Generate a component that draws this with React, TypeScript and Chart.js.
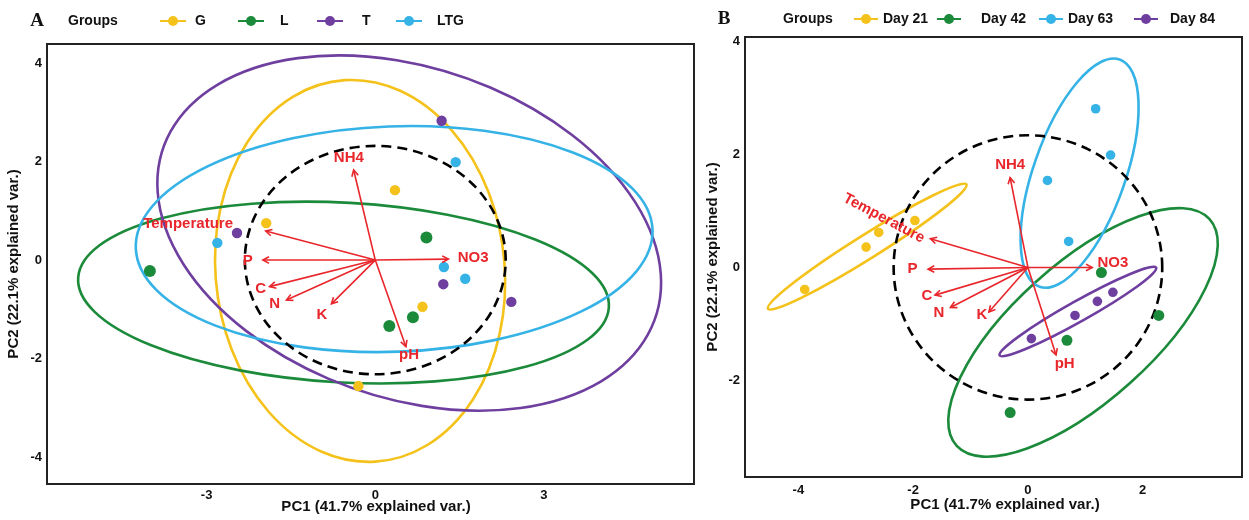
import React, { useEffect, useRef } from "react";
import { Chart, registerables } from "chart.js";

Chart.register(...registerables);

const YELLOW = "#F5C21B";
const GREEN = "#1B8A3A";
const PURPLE = "#6F3FA0";
const BLUE = "#35B2E6";
const RED = "#E8262B";
const INK = "#111111";

// ---------- Panel A ----------
const A_GROUPS = ["G", "L", "T", "LTG"];
const A_COLORS = [YELLOW, GREEN, PURPLE, BLUE];
const A_G_X = [-1.94, 0.35, 0.84, -0.3];
const A_G_Y = [0.75, 1.42, -0.95, -2.56];
const A_L_X = [-4.01, 0.91, 0.67, 0.25];
const A_L_Y = [-0.22, 0.46, -1.16, -1.34];
const A_T_X = [-2.46, 1.18, 1.21, 2.42];
const A_T_Y = [0.55, 2.83, -0.49, -0.85];
const A_LTG_X = [-2.81, 1.43, 1.22, 1.6];
const A_LTG_Y = [0.35, 1.99, -0.14, -0.38];
const A_ELL_CX = [-0.27, -0.565, 0.604, 0.336];
const A_ELL_CY = [-0.22, -0.66, 0.549, 0.427];
const A_ELL_A = [2.573, 4.73, 4.72, 4.6];
const A_ELL_B = [3.885, 1.825, 3.29, 2.29];
const A_ELL_ANG = [4, -3.7, -26, 2.5];
const VARS = ["NH4", "Temperature", "P", "C", "N", "K", "NO3", "pH"];
const A_LOAD_X = [-0.385, -1.95, -2.0, -1.88, -1.58, -0.78, 1.3, 0.545];
const A_LOAD_Y = [1.83, 0.59, 0.0, -0.54, -0.81, -0.89, 0.02, -1.76];
const A_LAB_X = [-0.47, -3.33, -2.27, -2.04, -1.79, -0.95, 1.74, 0.6];
const A_LAB_Y = [2.07, 0.73, -0.01, -0.58, -0.88, -1.11, 0.05, -1.93];
const A_LAB_ROT = [0, 0, 0, 0, 0, 0, 0, 0];
const A_X_TICKS = [-3, 0, 3];
const A_Y_TICKS = [-4, -2, 0, 2, 4];

// ---------- Panel B ----------
const B_GROUPS = ["Day 21", "Day 42", "Day 63", "Day 84"];
const B_COLORS = [YELLOW, GREEN, BLUE, PURPLE];
const B_D21_X = [-1.97, -2.6, -2.82, -3.89];
const B_D21_Y = [0.83, 0.62, 0.36, -0.39];
const B_D42_X = [1.28, 2.28, 0.68, -0.31];
const B_D42_Y = [-0.09, -0.85, -1.29, -2.57];
const B_D63_X = [1.18, 1.44, 0.34, 0.71];
const B_D63_Y = [2.81, 1.99, 1.54, 0.46];
const B_D84_X = [1.48, 1.21, 0.82, 0.06];
const B_D84_Y = [-0.44, -0.6, -0.85, -1.26];
const B_ELL_CX = [-2.8, 0.96, 0.9, 0.87];
const B_ELL_CY = [0.37, -1.15, 1.67, -0.78];
const B_ELL_A = [2.05, 2.98, 2.13, 1.57];
const B_ELL_B = [0.21, 1.215, 0.8, 0.18];
const B_ELL_ANG = [32.5, 42.4, 70.9, 29.7];
const B_LOAD_X = [-0.31, -1.7, -1.74, -1.62, -1.35, -0.68, 1.12, 0.49];
const B_LOAD_Y = [1.59, 0.51, -0.03, -0.49, -0.71, -0.79, 0.0, -1.55];
const B_LAB_X = [-0.31, -2.51, -2.01, -1.76, -1.55, -0.8, 1.48, 0.64];
const B_LAB_Y = [1.81, 0.87, -0.03, -0.51, -0.8, -0.84, 0.09, -1.7];
const B_LAB_ROT = [0, 28, 0, 0, 0, 0, 0, 0];
const B_X_TICKS = [-4, -2, 0, 2];
const B_Y_TICKS = [-2, 0, 2, 4];

const X_TITLE = "PC1 (41.7% explained var.)";
const Y_TITLE = "PC2 (22.1% explained var.)";

const SANS = "'Liberation Sans', Arial, sans-serif";

type Spec = {
  letter: string;
  letterX: number;
  legendY: number;
  groupsX: number;
  markerX: number[];
  markerHalf: number;
  labelX: number[];
  groups: string[];
  colors: string[];
  xs: number[][];
  ys: number[][];
  radii: number[];
  ell: { cx: number[]; cy: number[]; a: number[]; b: number[]; ang: number[] };
  circleR: number;
  loadX: number[];
  loadY: number[];
  labX: number[];
  labY: number[];
  labRot: number[];
  xMin: number;
  xMax: number;
  yMin: number;
  yMax: number;
  xTicks: number[];
  yTicks: number[];
  padding: { left: number; right: number; top: number; bottom: number };
  yWidth: number;
  xHeight: number;
  xTickPad: number;
  yTitlePad: number;
  xTitleX: number;
  xTitleY: number;
};

const SPEC_A: Spec = {
  letter: "A",
  letterX: 37,
  legendY: 21,
  groupsX: 68,
  markerX: [173, 251, 330, 409],
  markerHalf: 13,
  labelX: [195, 280, 362, 437],
  groups: A_GROUPS,
  colors: A_COLORS,
  xs: [A_G_X, A_L_X, A_T_X, A_LTG_X],
  ys: [A_G_Y, A_L_Y, A_T_Y, A_LTG_Y],
  radii: [5.2, 6, 5.2, 5.2],
  ell: { cx: A_ELL_CX, cy: A_ELL_CY, a: A_ELL_A, b: A_ELL_B, ang: A_ELL_ANG },
  circleR: 2.32,
  loadX: A_LOAD_X,
  loadY: A_LOAD_Y,
  labX: A_LAB_X,
  labY: A_LAB_Y,
  labRot: A_LAB_ROT,
  xMin: -5.84,
  xMax: 5.67,
  yMin: -4.55,
  yMax: 4.39,
  xTicks: A_X_TICKS,
  yTicks: A_Y_TICKS,
  padding: { left: 2, right: 5, top: 44, bottom: 0 },
  yWidth: 45,
  xHeight: 36,
  xTickPad: 4,
  yTitlePad: 3,
  xTitleX: 376,
  xTitleY: 507,
};

const SPEC_B: Spec = {
  letter: "B",
  letterX: 24,
  legendY: 19,
  groupsX: 83,
  markerX: [166, 249, 351, 446],
  markerHalf: 12,
  labelX: [183, 281, 368, 470],
  groups: B_GROUPS,
  colors: B_COLORS,
  xs: [B_D21_X, B_D42_X, B_D63_X, B_D84_X],
  ys: [B_D21_Y, B_D42_Y, B_D63_Y, B_D84_Y],
  radii: [4.8, 5.5, 4.8, 4.8],
  ell: { cx: B_ELL_CX, cy: B_ELL_CY, a: B_ELL_A, b: B_ELL_B, ang: B_ELL_ANG },
  circleR: 2.34,
  loadX: B_LOAD_X,
  loadY: B_LOAD_Y,
  labX: B_LAB_X,
  labY: B_LAB_Y,
  labRot: B_LAB_ROT,
  xMin: -4.93,
  xMax: 3.73,
  yMin: -3.71,
  yMax: 4.08,
  xTicks: B_X_TICKS,
  yTicks: B_Y_TICKS,
  padding: { left: 0, right: 7, top: 37, bottom: 2 },
  yWidth: 45,
  xHeight: 41,
  xTickPad: 6,
  yTitlePad: 3.5,
  xTitleX: 305,
  xTitleY: 505,
};

function makePlugin(spec: Spec) {
  return {
    id: "biplot" + spec.letter,
    beforeDatasetsDraw(chart: any) {
      const { ctx, chartArea } = chart;
      const xs = chart.scales.x;
      const ys = chart.scales.y;
      const px0 = xs.getPixelForValue(0);
      const py0 = ys.getPixelForValue(0);
      const sx = xs.getPixelForValue(1) - px0;
      const sy = py0 - ys.getPixelForValue(1);
      ctx.save();
      ctx.beginPath();
      ctx.rect(chartArea.left, chartArea.top, chartArea.right - chartArea.left, chartArea.bottom - chartArea.top);
      ctx.clip();
      spec.colors.forEach((c, i) => {
        ctx.save();
        ctx.transform(sx, 0, 0, -sy, px0, py0);
        ctx.beginPath();
        ctx.ellipse(spec.ell.cx[i], spec.ell.cy[i], spec.ell.a[i], spec.ell.b[i], (spec.ell.ang[i] * Math.PI) / 180, 0, Math.PI * 2);
        ctx.restore();
        ctx.strokeStyle = c;
        ctx.lineWidth = 2.6;
        ctx.stroke();
      });
      ctx.save();
      ctx.transform(sx, 0, 0, -sy, px0, py0);
      ctx.beginPath();
      ctx.ellipse(0, 0, spec.circleR, spec.circleR, 0, 0, Math.PI * 2);
      ctx.restore();
      ctx.setLineDash([10, 6]);
      ctx.strokeStyle = "#000";
      ctx.lineWidth = 2.6;
      ctx.stroke();
      ctx.restore();
    },
    afterDatasetsDraw(chart: any) {
      const { ctx, chartArea } = chart;
      const xs = chart.scales.x;
      const ys = chart.scales.y;
      const ox = xs.getPixelForValue(0);
      const oy = ys.getPixelForValue(0);
      ctx.save();
      ctx.strokeStyle = RED;
      ctx.lineWidth = 1.6;
      spec.loadX.forEach((lx, i) => {
        const tx = xs.getPixelForValue(lx);
        const ty = ys.getPixelForValue(spec.loadY[i]);
        const ang = Math.atan2(ty - oy, tx - ox);
        const L = 7;
        const w = (28 * Math.PI) / 180;
        ctx.beginPath();
        ctx.moveTo(tx - L * Math.cos(ang - w), ty - L * Math.sin(ang - w));
        ctx.lineTo(tx, ty);
        ctx.lineTo(tx - L * Math.cos(ang + w), ty - L * Math.sin(ang + w));
        ctx.stroke();
      });
      ctx.fillStyle = RED;
      ctx.font = "bold 15px " + SANS;
      ctx.textAlign = "center";
      ctx.textBaseline = "middle";
      VARS.forEach((v, i) => {
        const x = xs.getPixelForValue(spec.labX[i]);
        const y = ys.getPixelForValue(spec.labY[i]);
        ctx.save();
        ctx.translate(x, y);
        ctx.rotate((spec.labRot[i] * Math.PI) / 180);
        ctx.fillText(v, 0, 0);
        ctx.restore();
      });
      ctx.strokeStyle = "#222";
      ctx.lineWidth = 2;
      ctx.strokeRect(chartArea.left, chartArea.top, chartArea.right - chartArea.left, chartArea.bottom - chartArea.top);
      ctx.restore();
    },
    afterDraw(chart: any) {
      const { ctx } = chart;
      const y = spec.legendY;
      ctx.save();
      ctx.fillStyle = INK;
      ctx.textBaseline = "middle";
      ctx.textAlign = "center";
      ctx.font = "bold 15px " + SANS;
      ctx.fillText(X_TITLE, spec.xTitleX, spec.xTitleY);
      ctx.font = "bold 19px 'Liberation Serif', 'Times New Roman', serif";
      ctx.fillText(spec.letter, spec.letterX, y);
      ctx.textAlign = "left";
      ctx.font = "bold 14px " + SANS;
      ctx.fillText("Groups", spec.groupsX, y);
      spec.groups.forEach((g, i) => {
        const mx = spec.markerX[i];
        ctx.strokeStyle = spec.colors[i];
        ctx.lineWidth = 2;
        ctx.beginPath();
        ctx.moveTo(mx - spec.markerHalf, y);
        ctx.lineTo(mx + spec.markerHalf, y);
        ctx.stroke();
        ctx.fillStyle = spec.colors[i];
        ctx.beginPath();
        ctx.arc(mx, y, 5, 0, Math.PI * 2);
        ctx.fill();
        ctx.fillStyle = INK;
        ctx.fillText(g, spec.labelX[i], y);
      });
      ctx.restore();
    },
  };
}

function buildConfig(spec: Spec): any {
  const datasets: any[] = [];
  spec.groups.forEach((g, i) => {
    datasets.push({
      label: g,
      data: spec.xs[i].map((x, k) => ({ x, y: spec.ys[i][k] })),
      backgroundColor: spec.colors[i],
      borderColor: spec.colors[i],
      borderWidth: 0,
      pointRadius: spec.radii[i],
      showLine: false,
      order: 0,
    });
  });
  VARS.forEach((v, i) => {
    datasets.push({
      label: v,
      data: [
        { x: 0, y: 0 },
        { x: spec.loadX[i], y: spec.loadY[i] },
      ],
      showLine: true,
      borderColor: RED,
      borderWidth: 1.6,
      pointRadius: 0,
      fill: false,
      order: 1,
    });
  });
  const tickFont = { family: SANS, size: 13, weight: "bold" };
  const titleFont = { family: SANS, size: 15, weight: "bold" };
  return {
    type: "scatter",
    data: { datasets },
    options: {
      animation: false,
      responsive: false,
      devicePixelRatio: 1,
      events: [],
      layout: { padding: spec.padding },
      plugins: {
        legend: { display: false },
        tooltip: { enabled: false },
        title: { display: false },
      },
      scales: {
        x: {
          type: "linear",
          min: spec.xMin,
          max: spec.xMax,
          grid: { display: false, drawTicks: false },
          border: { display: false },
          ticks: {
            padding: spec.xTickPad,
            font: tickFont,
            color: INK,
            autoSkip: false,
            maxRotation: 0,
            callback: (v: number) => String(v),
          },
          afterBuildTicks: (s: any) => {
            s.ticks = spec.xTicks.map((v) => ({ value: v }));
          },
          afterFit: (s: any) => {
            s.height = spec.xHeight;
          },
          title: { display: false },
        },
        y: {
          type: "linear",
          min: spec.yMin,
          max: spec.yMax,
          grid: { display: false, drawTicks: false },
          border: { display: false },
          ticks: {
            padding: 5,
            font: tickFont,
            color: INK,
            autoSkip: false,
            callback: (v: number) => String(v),
          },
          afterBuildTicks: (s: any) => {
            s.ticks = spec.yTicks.map((v) => ({ value: v }));
          },
          afterFit: (s: any) => {
            s.width = spec.yWidth;
          },
          title: { display: true, text: Y_TITLE, font: titleFont, color: INK, padding: { top: spec.yTitlePad, bottom: 0 } },
        },
      },
    },
    plugins: [makePlugin(spec)],
  };
}

function Panel({ spec, left, width }: { spec: Spec; left: number; width: number }) {
  const ref = useRef<HTMLCanvasElement>(null);
  useEffect(() => {
    const chart = new Chart(ref.current as HTMLCanvasElement, buildConfig(spec));
    return () => chart.destroy();
  }, [spec]);
  return (
    <canvas
      ref={ref}
      width={width}
      height={520}
      style={{ position: "absolute", left, top: 0, width, height: 520 }}
    />
  );
}

export default function App() {
  return (
    <div style={{ position: "fixed", left: 0, top: 0, width: 1249, height: 520, background: "#fff", overflow: "hidden" }}>
      <Panel spec={SPEC_A} left={0} width={700} />
      <Panel spec={SPEC_B} left={700} width={549} />
    </div>
  );
}
